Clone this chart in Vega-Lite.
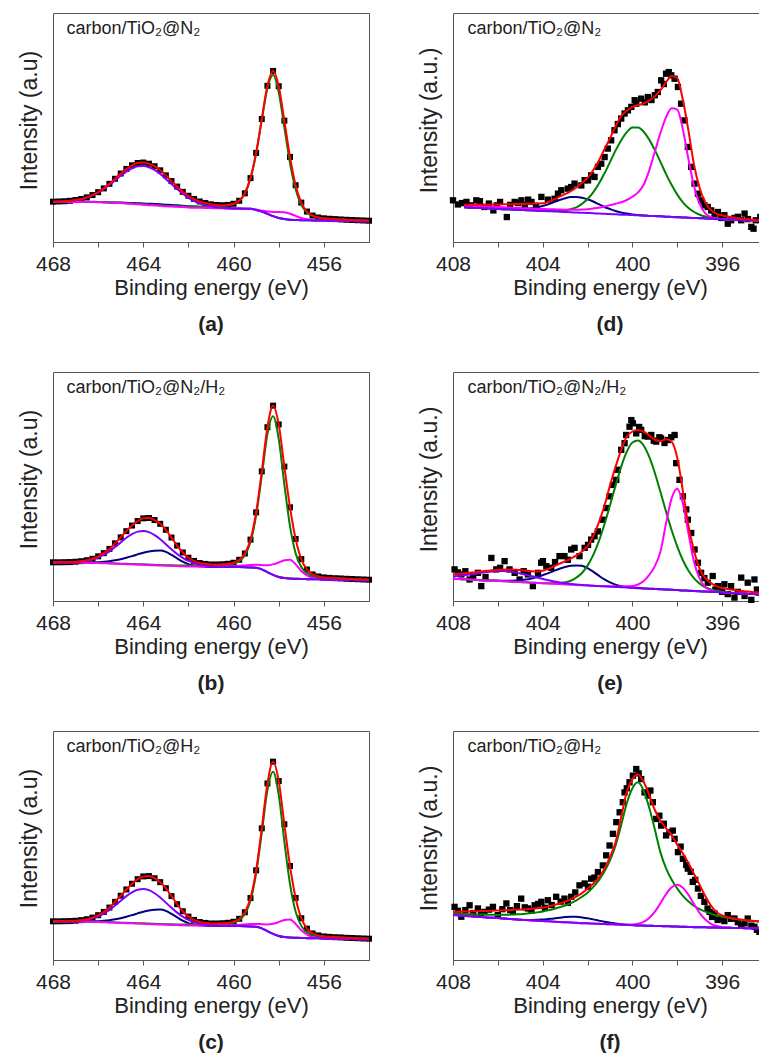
{
"$schema": "https://vega.github.io/schema/vega-lite/v6.json",
"background": "white",
"padding": {"left": 17, "top": 12, "right": 2, "bottom": 2},
"columns": 2,
"spacing": {"row": 130, "column": 84},
"bounds": "flush",
"config": {
 "font": "Liberation Sans",
 "view": {"stroke": "#555", "strokeWidth": 1},
 "axis": {"grid": false, "labelFont": "Liberation Sans", "titleFont": "Liberation Sans", "labelFontSize": 21, "titleFontSize": 22, "titleFontWeight": "normal", "labelColor": "#222", "titleColor": "#222", "domainColor": "#555", "tickColor": "#555"},
 "axisX": {"tickSize": 5, "labelPadding": 6, "titlePadding": 3, "labelFlush": false, "labelOverlap": false},
 "axisY": {"labels": false, "ticks": false, "domain": false, "titlePadding": 12, "titleY": 107, "titleFontSize": 23},
 "title": {"orient": "bottom", "fontSize": 21, "fontWeight": "bold", "font": "Liberation Sans", "color": "#222", "offset": 16, "anchor": "middle"},
 "line": {"strokeWidth": 2, "interpolate": "monotone"},
 "square": {"color": "black", "opacity": 1}
},
"datasets": {
"a": [
{"x":468,"r":17.6,"g":17.6,"m":17.5,"v":17.6,"n":17.5},
{"x":467.75,"r":17.7,"g":17.6,"m":17.5,"v":17.65,"n":17.5},
{"x":467.5,"r":17.8,"g":17.6,"m":17.5,"v":17.75,"n":17.5},
{"x":467.25,"r":18.0,"g":17.6,"m":17.5,"v":17.9,"n":17.5},
{"x":467,"r":18.35,"g":17.6,"m":17.5,"v":18.25,"n":17.5},
{"x":466.75,"r":18.8,"g":17.6,"m":17.5,"v":18.7,"n":17.55},
{"x":466.5,"r":19.5,"g":17.6,"m":17.5,"v":19.4,"n":17.55},
{"x":466.25,"r":20.5,"g":17.55,"m":17.45,"v":20.35,"n":17.5},
{"x":466,"r":21.75,"g":17.5,"m":17.4,"v":21.6,"n":17.45},
{"x":465.75,"r":23.4,"g":17.4,"m":17.3,"v":23.1,"n":17.4},
{"x":465.5,"r":25.4,"g":17.3,"m":17.2,"v":24.95,"n":17.3},
{"x":465.25,"r":27.6,"g":17.2,"m":17.1,"v":26.9,"n":17.25},
{"x":465,"r":29.9,"g":17.15,"m":17.0,"v":28.95,"n":17.2},
{"x":464.75,"r":31.9,"g":16.95,"m":16.8,"v":30.7,"n":17.1},
{"x":464.5,"r":33.5,"g":16.8,"m":16.65,"v":32.15,"n":17.0},
{"x":464.25,"r":34.5,"g":16.65,"m":16.5,"v":33.05,"n":16.95},
{"x":464,"r":34.7,"g":16.45,"m":16.3,"v":33.2,"n":16.8},
{"x":463.75,"r":34.2,"g":16.3,"m":16.1,"v":32.65,"n":16.7},
{"x":463.5,"r":33.1,"g":16.15,"m":15.95,"v":31.45,"n":16.6},
{"x":463.25,"r":31.3,"g":16.0,"m":15.8,"v":29.7,"n":16.5},
{"x":463,"r":29.1,"g":15.8,"m":15.6,"v":27.55,"n":16.3},
{"x":462.75,"r":26.6,"g":15.75,"m":15.5,"v":25.3,"n":16.2},
{"x":462.5,"r":24.2,"g":15.65,"m":15.35,"v":23.1,"n":16.0},
{"x":462.25,"r":21.9,"g":15.6,"m":15.25,"v":21.05,"n":15.85},
{"x":462,"r":20.2,"g":15.5,"m":15.1,"v":19.3,"n":15.6},
{"x":461.75,"r":18.8,"g":15.45,"m":15.0,"v":17.9,"n":15.45},
{"x":461.5,"r":17.7,"g":15.45,"m":14.95,"v":16.85,"n":15.3},
{"x":461.25,"r":17.0,"g":15.5,"m":14.9,"v":16.1,"n":15.2},
{"x":461,"r":16.45,"g":15.5,"m":14.8,"v":15.55,"n":15.0},
{"x":460.75,"r":16.15,"g":15.6,"m":14.75,"v":15.15,"n":14.9},
{"x":460.5,"r":16.05,"g":15.7,"m":14.7,"v":14.95,"n":14.8},
{"x":460.25,"r":16.2,"g":15.95,"m":14.65,"v":14.8,"n":14.75},
{"x":460,"r":16.7,"g":16.6,"m":14.6,"v":14.65,"n":14.65},
{"x":459.75,"r":18.0,"g":18.0,"m":14.6,"v":14.6,"n":14.6},
{"x":459.5,"r":21.25,"g":21.25,"m":14.55,"v":14.55,"n":14.55},
{"x":459.25,"r":27.9,"g":27.9,"m":14.5,"v":14.5,"n":14.5},
{"x":459,"r":38.9,"g":38.8,"m":14.15,"v":14.0,"n":14.0},
{"x":458.75,"r":53.7,"g":53.3,"m":13.7,"v":13.3,"n":13.3},
{"x":458.5,"r":68.2,"g":67.2,"m":13.3,"v":12.3,"n":12.3},
{"x":458.25,"r":74.7,"g":72.9,"m":13.1,"v":11.3,"n":11.3},
{"x":458,"r":68.05,"g":65.4,"m":13.15,"v":10.5,"n":10.5},
{"x":457.75,"r":53.0,"g":50.0,"m":13.0,"v":10.0,"n":10.0},
{"x":457.5,"r":37.15,"g":34.5,"m":12.35,"v":9.7,"n":9.7},
{"x":457.25,"r":24.8,"g":23.0,"m":11.4,"v":9.6,"n":9.6},
{"x":457,"r":17.2,"g":16.2,"m":10.5,"v":9.5,"n":9.5},
{"x":456.75,"r":13.3,"g":12.9,"m":9.9,"v":9.47,"n":9.47},
{"x":456.5,"r":11.55,"g":11.4,"m":9.55,"v":9.43,"n":9.43},
{"x":456.25,"r":10.7,"g":10.7,"m":9.45,"v":9.4,"n":9.4},
{"x":456,"r":10.35,"g":10.35,"m":9.35,"v":9.35,"n":9.35},
{"x":455.75,"r":10.15,"g":10.15,"m":9.3,"v":9.3,"n":9.3},
{"x":455.5,"r":10.0,"g":10.0,"m":9.28,"v":9.28,"n":9.28},
{"x":455.25,"r":9.85,"g":9.85,"m":9.25,"v":9.25,"n":9.25},
{"x":455,"r":9.7,"g":9.7,"m":9.2,"v":9.2,"n":9.2},
{"x":454.75,"r":9.6,"g":9.55,"m":9.15,"v":9.15,"n":9.15},
{"x":454.5,"r":9.5,"g":9.5,"m":9.1,"v":9.1,"n":9.1},
{"x":454.25,"r":9.4,"g":9.35,"m":9.05,"v":9.05,"n":9.05},
{"x":454,"r":9.3,"g":9.3,"m":9.0,"v":9.0,"n":9.0}
],
"b": [
{"x":468,"r":16.9,"g":16.9,"m":16.8,"v":16.8,"n":16.8},
{"x":467.75,"r":16.9,"g":16.9,"m":16.8,"v":16.8,"n":16.85},
{"x":467.5,"r":16.95,"g":16.9,"m":16.8,"v":16.85,"n":16.8},
{"x":467.25,"r":17.0,"g":16.9,"m":16.8,"v":16.9,"n":16.8},
{"x":467,"r":17.15,"g":16.9,"m":16.8,"v":17.05,"n":16.85},
{"x":466.75,"r":17.4,"g":16.85,"m":16.75,"v":17.2,"n":16.8},
{"x":466.5,"r":17.8,"g":16.8,"m":16.7,"v":17.55,"n":16.85},
{"x":466.25,"r":18.45,"g":16.75,"m":16.65,"v":18.15,"n":16.85},
{"x":466,"r":19.5,"g":16.7,"m":16.6,"v":19.0,"n":16.95},
{"x":465.75,"r":20.9,"g":16.6,"m":16.5,"v":20.2,"n":17.1},
{"x":465.5,"r":22.75,"g":16.5,"m":16.4,"v":21.7,"n":17.35},
{"x":465.25,"r":25.2,"g":16.4,"m":16.3,"v":23.6,"n":17.75},
{"x":465,"r":27.8,"g":16.3,"m":16.2,"v":25.6,"n":18.25},
{"x":464.75,"r":30.5,"g":16.25,"m":16.1,"v":27.6,"n":18.9},
{"x":464.5,"r":32.95,"g":16.15,"m":16.0,"v":29.2,"n":19.6},
{"x":464.25,"r":34.9,"g":16.05,"m":15.9,"v":30.3,"n":20.35},
{"x":464,"r":36.1,"g":16.0,"m":15.8,"v":30.6,"n":21.1},
{"x":463.75,"r":36.25,"g":15.9,"m":15.7,"v":30.1,"n":21.65},
{"x":463.5,"r":35.35,"g":15.8,"m":15.6,"v":28.8,"n":21.95},
{"x":463.25,"r":33.7,"g":15.7,"m":15.5,"v":27.0,"n":22.0},
{"x":463,"r":31.1,"g":15.65,"m":15.4,"v":24.8,"n":21.45},
{"x":462.75,"r":27.7,"g":15.6,"m":15.3,"v":22.6,"n":20.1},
{"x":462.5,"r":24.2,"g":15.55,"m":15.25,"v":20.55,"n":18.6},
{"x":462.25,"r":21.2,"g":15.5,"m":15.15,"v":18.85,"n":17.15},
{"x":462,"r":18.9,"g":15.5,"m":15.1,"v":17.5,"n":16.1},
{"x":461.75,"r":17.5,"g":15.5,"m":15.05,"v":16.55,"n":15.5},
{"x":461.5,"r":16.6,"g":15.5,"m":15.0,"v":15.85,"n":15.2},
{"x":461.25,"r":16.2,"g":15.55,"m":15.05,"v":15.4,"n":15.0},
{"x":461,"r":15.95,"g":15.55,"m":15.05,"v":15.15,"n":14.9},
{"x":460.75,"r":15.95,"g":15.65,"m":15.1,"v":15.0,"n":14.9},
{"x":460.5,"r":16.05,"g":15.75,"m":15.1,"v":14.9,"n":14.85},
{"x":460.25,"r":16.25,"g":15.9,"m":15.15,"v":14.85,"n":14.8},
{"x":460,"r":16.7,"g":16.3,"m":15.2,"v":14.8,"n":14.8},
{"x":459.75,"r":18.0,"g":17.4,"m":15.4,"v":14.8,"n":14.8},
{"x":459.5,"r":20.75,"g":19.95,"m":15.55,"v":14.75,"n":14.75},
{"x":459.25,"r":26.8,"g":25.75,"m":15.7,"v":14.65,"n":14.65},
{"x":459,"r":38.7,"g":37.4,"m":15.8,"v":14.5,"n":14.5},
{"x":458.75,"r":56.6,"g":54.7,"m":15.7,"v":13.8,"n":13.8},
{"x":458.5,"r":75.9,"g":72.9,"m":15.6,"v":12.6,"n":12.6},
{"x":458.25,"r":85.3,"g":80.7,"m":16.0,"v":11.4,"n":11.4},
{"x":458,"r":77.1,"g":70.8,"m":16.8,"v":10.5,"n":10.5},
{"x":457.75,"r":58.7,"g":50.9,"m":17.8,"v":10.0,"n":10.0},
{"x":457.5,"r":40.9,"g":32.7,"m":18.0,"v":9.8,"n":9.8},
{"x":457.25,"r":27.1,"g":20.8,"m":16.0,"v":9.7,"n":9.7},
{"x":457,"r":18.3,"g":14.8,"m":13.1,"v":9.6,"n":9.6},
{"x":456.75,"r":13.75,"g":12.15,"m":11.15,"v":9.55,"n":9.55},
{"x":456.5,"r":11.6,"g":11.0,"m":10.1,"v":9.5,"n":9.5},
{"x":456.25,"r":10.75,"g":10.55,"m":9.65,"v":9.45,"n":9.45},
{"x":456,"r":10.3,"g":10.3,"m":9.4,"v":9.4,"n":9.4},
{"x":455.75,"r":10.1,"g":10.1,"m":9.35,"v":9.35,"n":9.35},
{"x":455.5,"r":9.95,"g":9.95,"m":9.3,"v":9.3,"n":9.3},
{"x":455.25,"r":9.85,"g":9.85,"m":9.25,"v":9.25,"n":9.25},
{"x":455,"r":9.7,"g":9.7,"m":9.2,"v":9.2,"n":9.2},
{"x":454.75,"r":9.6,"g":9.55,"m":9.15,"v":9.15,"n":9.15},
{"x":454.5,"r":9.5,"g":9.5,"m":9.1,"v":9.1,"n":9.1},
{"x":454.25,"r":9.4,"g":9.4,"m":9.05,"v":9.05,"n":9.05},
{"x":454,"r":9.3,"g":9.3,"m":9.0,"v":9.0,"n":9.0}
],
"c": [
{"x":468,"r":16.9,"g":16.9,"m":16.8,"v":16.8,"n":16.8},
{"x":467.75,"r":16.9,"g":16.9,"m":16.8,"v":16.8,"n":16.85},
{"x":467.5,"r":16.95,"g":16.9,"m":16.8,"v":16.85,"n":16.8},
{"x":467.25,"r":17.0,"g":16.9,"m":16.8,"v":16.9,"n":16.8},
{"x":467,"r":17.15,"g":16.9,"m":16.8,"v":17.05,"n":16.85},
{"x":466.75,"r":17.4,"g":16.85,"m":16.75,"v":17.2,"n":16.8},
{"x":466.5,"r":17.8,"g":16.8,"m":16.7,"v":17.55,"n":16.85},
{"x":466.25,"r":18.5,"g":16.75,"m":16.65,"v":18.2,"n":16.85},
{"x":466,"r":19.55,"g":16.7,"m":16.6,"v":19.05,"n":16.95},
{"x":465.75,"r":21.0,"g":16.6,"m":16.5,"v":20.3,"n":17.1},
{"x":465.5,"r":22.9,"g":16.5,"m":16.4,"v":21.85,"n":17.35},
{"x":465.25,"r":25.4,"g":16.4,"m":16.3,"v":23.8,"n":17.75},
{"x":465,"r":28.05,"g":16.3,"m":16.2,"v":25.85,"n":18.25},
{"x":464.75,"r":30.8,"g":16.25,"m":16.1,"v":27.9,"n":18.9},
{"x":464.5,"r":33.3,"g":16.15,"m":16.0,"v":29.55,"n":19.6},
{"x":464.25,"r":35.3,"g":16.05,"m":15.9,"v":30.7,"n":20.35},
{"x":464,"r":36.5,"g":16.0,"m":15.8,"v":31.0,"n":21.1},
{"x":463.75,"r":36.65,"g":15.9,"m":15.7,"v":30.5,"n":21.65},
{"x":463.5,"r":35.7,"g":15.8,"m":15.6,"v":29.15,"n":21.95},
{"x":463.25,"r":34.0,"g":15.7,"m":15.5,"v":27.3,"n":22.0},
{"x":463,"r":31.35,"g":15.65,"m":15.4,"v":25.05,"n":21.45},
{"x":462.75,"r":27.9,"g":15.6,"m":15.3,"v":22.8,"n":20.1},
{"x":462.5,"r":24.35,"g":15.55,"m":15.25,"v":20.7,"n":18.6},
{"x":462.25,"r":21.3,"g":15.5,"m":15.15,"v":18.95,"n":17.15},
{"x":462,"r":18.95,"g":15.5,"m":15.1,"v":17.55,"n":16.1},
{"x":461.75,"r":17.5,"g":15.5,"m":15.05,"v":16.55,"n":15.5},
{"x":461.5,"r":16.6,"g":15.5,"m":15.0,"v":15.85,"n":15.2},
{"x":461.25,"r":16.2,"g":15.55,"m":15.05,"v":15.4,"n":15.0},
{"x":461,"r":15.95,"g":15.55,"m":15.05,"v":15.15,"n":14.9},
{"x":460.75,"r":15.95,"g":15.65,"m":15.1,"v":15.0,"n":14.9},
{"x":460.5,"r":16.05,"g":15.75,"m":15.1,"v":14.9,"n":14.85},
{"x":460.25,"r":16.25,"g":15.9,"m":15.15,"v":14.85,"n":14.8},
{"x":460,"r":16.7,"g":16.3,"m":15.2,"v":14.8,"n":14.8},
{"x":459.75,"r":18.0,"g":17.4,"m":15.4,"v":14.8,"n":14.8},
{"x":459.5,"r":20.85,"g":20.05,"m":15.55,"v":14.75,"n":14.75},
{"x":459.25,"r":27.05,"g":26.0,"m":15.7,"v":14.65,"n":14.65},
{"x":459,"r":39.15,"g":37.9,"m":15.75,"v":14.5,"n":14.5},
{"x":458.75,"r":57.5,"g":55.6,"m":15.65,"v":13.8,"n":13.8},
{"x":458.5,"r":77.1,"g":74.2,"m":15.5,"v":12.6,"n":12.6},
{"x":458.25,"r":86.6,"g":82.2,"m":15.8,"v":11.4,"n":11.4},
{"x":458,"r":78.15,"g":72.1,"m":16.55,"v":10.5,"n":10.5},
{"x":457.75,"r":59.3,"g":51.8,"m":17.5,"v":10.0,"n":10.0},
{"x":457.5,"r":41.05,"g":33.2,"m":17.7,"v":9.8,"n":9.8},
{"x":457.25,"r":27.1,"g":21.05,"m":15.75,"v":9.7,"n":9.7},
{"x":457,"r":18.25,"g":14.9,"m":12.95,"v":9.6,"n":9.6},
{"x":456.75,"r":13.7,"g":12.15,"m":11.1,"v":9.55,"n":9.55},
{"x":456.5,"r":11.6,"g":11.0,"m":10.1,"v":9.5,"n":9.5},
{"x":456.25,"r":10.75,"g":10.55,"m":9.65,"v":9.45,"n":9.45},
{"x":456,"r":10.3,"g":10.3,"m":9.4,"v":9.4,"n":9.4},
{"x":455.75,"r":10.1,"g":10.1,"m":9.35,"v":9.35,"n":9.35},
{"x":455.5,"r":9.95,"g":9.95,"m":9.3,"v":9.3,"n":9.3},
{"x":455.25,"r":9.85,"g":9.85,"m":9.25,"v":9.25,"n":9.25},
{"x":455,"r":9.7,"g":9.7,"m":9.2,"v":9.2,"n":9.2},
{"x":454.75,"r":9.6,"g":9.55,"m":9.15,"v":9.15,"n":9.15},
{"x":454.5,"r":9.5,"g":9.5,"m":9.1,"v":9.1,"n":9.1},
{"x":454.25,"r":9.4,"g":9.4,"m":9.05,"v":9.05,"n":9.05},
{"x":454,"r":9.3,"g":9.3,"m":9.0,"v":9.0,"n":9.0}
],
"d": [
{"x":407.5,"r":16.3,"g":15.15,"m":15.95,"v":15.15,"n":15.15},
{"x":407.25,"r":16.3,"g":15.0,"m":15.8,"v":15.0,"n":15.0},
{"x":407,"r":16.3,"g":14.9,"m":15.7,"v":14.9,"n":14.9},
{"x":406.75,"r":16.3,"g":14.8,"m":15.6,"v":14.8,"n":14.8},
{"x":406.5,"r":16.3,"g":14.7,"m":15.5,"v":14.7,"n":14.7},
{"x":406.25,"r":16.35,"g":14.55,"m":15.35,"v":14.55,"n":14.55},
{"x":406,"r":16.4,"g":14.45,"m":15.25,"v":14.45,"n":14.45},
{"x":405.75,"r":16.45,"g":14.35,"m":15.15,"v":14.35,"n":14.35},
{"x":405.5,"r":16.5,"g":14.25,"m":15.05,"v":14.25,"n":14.3},
{"x":405.25,"r":16.55,"g":14.1,"m":14.9,"v":14.1,"n":14.25},
{"x":405,"r":16.6,"g":14.0,"m":14.8,"v":14.0,"n":14.3},
{"x":404.75,"r":16.65,"g":13.9,"m":14.7,"v":13.9,"n":14.45},
{"x":404.5,"r":16.7,"g":13.8,"m":14.6,"v":13.8,"n":14.7},
{"x":404.25,"r":16.8,"g":13.65,"m":14.5,"v":13.65,"n":15.1},
{"x":404,"r":16.9,"g":13.6,"m":14.4,"v":13.55,"n":15.75},
{"x":403.75,"r":17.5,"g":13.55,"m":14.3,"v":13.45,"n":16.45},
{"x":403.5,"r":18.5,"g":13.55,"m":14.25,"v":13.35,"n":17.45},
{"x":403.25,"r":19.8,"g":13.6,"m":14.15,"v":13.2,"n":18.35},
{"x":403,"r":20.9,"g":13.85,"m":14.1,"v":13.1,"n":19.1},
{"x":402.75,"r":22.2,"g":14.35,"m":14.1,"v":13.0,"n":19.6},
{"x":402.5,"r":23.8,"g":15.15,"m":14.05,"v":12.85,"n":19.65},
{"x":402.25,"r":25.8,"g":16.65,"m":14.15,"v":12.75,"n":19.35},
{"x":402,"r":28.0,"g":18.75,"m":14.35,"v":12.65,"n":18.65},
{"x":401.75,"r":31.3,"g":21.65,"m":14.65,"v":12.55,"n":17.7},
{"x":401.5,"r":35.5,"g":25.45,"m":15.0,"v":12.4,"n":16.5},
{"x":401.25,"r":40.5,"g":29.9,"m":15.5,"v":12.3,"n":15.3},
{"x":401,"r":45.3,"g":34.9,"m":16.1,"v":12.2,"n":14.4},
{"x":400.75,"r":50.5,"g":40.0,"m":16.7,"v":12.1,"n":13.55},
{"x":400.5,"r":55.0,"g":44.45,"m":17.35,"v":11.95,"n":12.85},
{"x":400.25,"r":57.3,"g":47.95,"m":18.35,"v":11.85,"n":12.4},
{"x":400,"r":59.0,"g":49.95,"m":19.75,"v":11.75,"n":12.05},
{"x":399.75,"r":59.8,"g":50.0,"m":21.65,"v":11.65,"n":11.8},
{"x":399.5,"r":60.5,"g":48.15,"m":25.0,"v":11.5,"n":11.6},
{"x":399.25,"r":61.8,"g":44.7,"m":31.3,"v":11.4,"n":11.4},
{"x":399,"r":63.7,"g":40.1,"m":39.4,"v":11.3,"n":11.3},
{"x":398.75,"r":66.3,"g":35.0,"m":47.7,"v":11.2,"n":11.2},
{"x":398.5,"r":69.8,"g":29.65,"m":54.55,"v":11.05,"n":11.05},
{"x":398.25,"r":72.5,"g":24.85,"m":58.45,"v":10.95,"n":10.95},
{"x":398,"r":71.5,"g":20.7,"m":57.85,"v":10.85,"n":10.85},
{"x":397.75,"r":62.0,"g":17.35,"m":49.15,"v":10.75,"n":10.75},
{"x":397.5,"r":48.5,"g":14.85,"m":36.1,"v":10.6,"n":10.6},
{"x":397.25,"r":33.5,"g":13.1,"m":24.3,"v":10.5,"n":10.5},
{"x":397,"r":23.5,"g":11.9,"m":16.5,"v":10.4,"n":10.4},
{"x":396.75,"r":17.3,"g":11.1,"m":12.5,"v":10.3,"n":10.3},
{"x":396.5,"r":13.9,"g":10.6,"m":10.9,"v":10.2,"n":10.2},
{"x":396.25,"r":12.3,"g":10.25,"m":10.25,"v":10.05,"n":10.05},
{"x":396,"r":11.6,"g":10.05,"m":10.0,"v":9.95,"n":9.95},
{"x":395.75,"r":11.1,"g":9.85,"m":9.85,"v":9.85,"n":9.85},
{"x":395.5,"r":10.7,"g":9.75,"m":9.75,"v":9.75,"n":9.75},
{"x":395.25,"r":10.4,"g":9.6,"m":9.6,"v":9.6,"n":9.6},
{"x":395,"r":10.1,"g":9.5,"m":9.5,"v":9.5,"n":9.5},
{"x":394.75,"r":9.8,"g":9.4,"m":9.4,"v":9.4,"n":9.4},
{"x":394.5,"r":9.6,"g":9.3,"m":9.3,"v":9.3,"n":9.3},
{"x":394.25,"r":9.4,"g":9.2,"m":9.2,"v":9.2,"n":9.2},
{"x":394,"r":9.3,"g":9.05,"m":9.05,"v":9.05,"n":9.05}
],
"ds": [
{"x":408.0,"y":18.2},{"x":407.78,"y":16.4},{"x":407.6,"y":17.0},{"x":407.4,"y":17.5},{"x":407.2,"y":16.0},{"x":406.96,"y":18.2},{"x":406.8,"y":17.8},{"x":406.6,"y":15.3},{"x":406.4,"y":16.8},{"x":406.2,"y":13.8},{"x":406.05,"y":16.0},{"x":405.9,"y":17.5},{"x":405.6,"y":10.9},{"x":405.45,"y":16.2},{"x":405.25,"y":17.5},{"x":405.1,"y":17.0},{"x":404.95,"y":18.2},{"x":404.8,"y":16.0},{"x":404.65,"y":18.5},{"x":404.5,"y":17.5},{"x":404.3,"y":15.8},{"x":404.06,"y":19.7},{"x":403.77,"y":18.5},{"x":403.47,"y":18.9},{"x":403.32,"y":21.1},{"x":403.17,"y":22.6},{"x":402.88,"y":23.3},{"x":402.73,"y":24.0},{"x":402.58,"y":25.5},{"x":402.28,"y":24.7},{"x":402.13,"y":27.0},{"x":401.98,"y":26.9},{"x":401.84,"y":29.1},{"x":401.69,"y":28.4},{"x":401.54,"y":32.8},{"x":401.39,"y":34.2},{"x":401.24,"y":37.1},{"x":401.1,"y":40.8},{"x":400.95,"y":44.4},{"x":400.8,"y":48.8},{"x":400.65,"y":51.5},{"x":400.5,"y":53.9},{"x":400.35,"y":56.1},{"x":400.2,"y":57.5},{"x":400.05,"y":59.0},{"x":399.9,"y":61.9},{"x":399.83,"y":60.4},{"x":399.61,"y":62.6},{"x":399.45,"y":61.0},{"x":399.31,"y":63.3},{"x":399.15,"y":62.0},{"x":399.0,"y":64.1},{"x":398.87,"y":65.5},{"x":398.72,"y":70.6},{"x":398.6,"y":69.0},{"x":398.5,"y":73.5},{"x":398.38,"y":74.2},{"x":398.27,"y":72.8},{"x":398.12,"y":71.3},{"x":397.97,"y":67.7},{"x":397.83,"y":60.4},{"x":397.68,"y":53.1},{"x":397.53,"y":41.5},{"x":397.38,"y":32.8},{"x":397.23,"y":25.5},{"x":397.08,"y":21.1},{"x":396.94,"y":18.2},{"x":396.79,"y":16.0},{"x":396.64,"y":15.3},{"x":396.49,"y":13.8},{"x":396.34,"y":12.0},{"x":396.19,"y":13.1},{"x":396.04,"y":10.5},{"x":395.9,"y":11.7},{"x":395.75,"y":8.0},{"x":395.6,"y":9.5},{"x":395.45,"y":10.5},{"x":395.3,"y":11.0},{"x":395.15,"y":9.5},{"x":395.0,"y":12.4},{"x":394.85,"y":10.0},{"x":394.7,"y":6.6},{"x":394.6,"y":5.8},{"x":394.5,"y":9.5},{"x":394.3,"y":11.0}
],
"e": [
{"x":408,"r":11.6,"g":9.75,"m":9.75,"v":10.65,"n":9.75},
{"x":407.75,"r":11.85,"g":9.6,"m":9.6,"v":10.9,"n":9.6},
{"x":407.5,"r":12.1,"g":9.5,"m":9.5,"v":11.2,"n":9.5},
{"x":407.25,"r":12.35,"g":9.4,"m":9.4,"v":11.55,"n":9.4},
{"x":407,"r":12.6,"g":9.25,"m":9.25,"v":11.9,"n":9.25},
{"x":406.75,"r":12.9,"g":9.1,"m":9.1,"v":12.3,"n":9.1},
{"x":406.5,"r":13.2,"g":9.0,"m":9.0,"v":12.65,"n":9.0},
{"x":406.25,"r":13.4,"g":8.9,"m":8.9,"v":12.9,"n":8.95},
{"x":406,"r":13.6,"g":8.75,"m":8.75,"v":13.05,"n":8.95},
{"x":405.75,"r":13.7,"g":8.65,"m":8.65,"v":13.05,"n":8.85},
{"x":405.5,"r":13.8,"g":8.5,"m":8.5,"v":12.85,"n":8.8},
{"x":405.25,"r":13.65,"g":8.4,"m":8.4,"v":12.5,"n":8.9},
{"x":405,"r":13.5,"g":8.25,"m":8.25,"v":12.05,"n":9.05},
{"x":404.75,"r":13.25,"g":8.15,"m":8.15,"v":11.5,"n":9.35},
{"x":404.5,"r":13.0,"g":8.0,"m":8.0,"v":10.9,"n":9.85},
{"x":404.25,"r":12.9,"g":7.9,"m":7.9,"v":10.25,"n":10.5},
{"x":404,"r":13.2,"g":7.8,"m":7.75,"v":9.6,"n":11.3},
{"x":403.75,"r":14.0,"g":7.7,"m":7.65,"v":9.05,"n":12.15},
{"x":403.5,"r":15.1,"g":7.7,"m":7.5,"v":8.55,"n":13.15},
{"x":403.25,"r":16.3,"g":7.85,"m":7.4,"v":8.1,"n":14.1},
{"x":403,"r":17.3,"g":8.2,"m":7.25,"v":7.75,"n":14.85},
{"x":402.75,"r":18.5,"g":8.85,"m":7.15,"v":7.45,"n":15.35},
{"x":402.5,"r":19.9,"g":10.2,"m":7.0,"v":7.2,"n":15.55},
{"x":402.25,"r":21.6,"g":12.25,"m":6.9,"v":7.0,"n":15.35},
{"x":402,"r":23.9,"g":15.45,"m":6.75,"v":6.85,"n":14.35},
{"x":401.75,"r":28.3,"g":20.0,"m":6.65,"v":6.65,"n":12.8},
{"x":401.5,"r":34.2,"g":26.0,"m":6.5,"v":6.5,"n":11.05},
{"x":401.25,"r":41.5,"g":33.4,"m":6.4,"v":6.4,"n":9.4},
{"x":401,"r":50.4,"g":41.8,"m":6.45,"v":6.25,"n":8.1},
{"x":400.75,"r":58.7,"g":50.5,"m":6.35,"v":6.15,"n":7.1},
{"x":400.5,"r":66.0,"g":58.7,"m":6.35,"v":6.0,"n":6.5},
{"x":400.25,"r":71.8,"g":65.2,"m":6.4,"v":5.9,"n":6.1},
{"x":400,"r":74.0,"g":69.2,"m":6.55,"v":5.75,"n":5.85},
{"x":399.75,"r":74.7,"g":70.1,"m":7.2,"v":5.6,"n":5.65},
{"x":399.5,"r":74.0,"g":67.9,"m":8.7,"v":5.5,"n":5.5},
{"x":399.25,"r":72.3,"g":62.9,"m":11.4,"v":5.4,"n":5.4},
{"x":399,"r":70.4,"g":55.9,"m":15.25,"v":5.25,"n":5.25},
{"x":398.75,"r":69.9,"g":47.6,"m":21.6,"v":5.1,"n":5.1},
{"x":398.5,"r":70.6,"g":39.0,"m":34.0,"v":5.0,"n":5.0},
{"x":398.25,"r":69.5,"g":30.9,"m":44.9,"v":4.9,"n":4.9},
{"x":398,"r":62.5,"g":23.75,"m":49.05,"v":4.75,"n":4.75},
{"x":397.75,"r":48.0,"g":17.8,"m":42.6,"v":4.6,"n":4.6},
{"x":397.5,"r":32.8,"g":13.2,"m":29.5,"v":4.5,"n":4.5},
{"x":397.25,"r":21.8,"g":9.9,"m":16.9,"v":4.4,"n":4.4},
{"x":397,"r":14.0,"g":7.6,"m":9.75,"v":4.25,"n":4.25},
{"x":396.75,"r":10.0,"g":6.0,"m":6.1,"v":4.1,"n":4.1},
{"x":396.5,"r":7.8,"g":5.05,"m":4.6,"v":4.0,"n":4.0},
{"x":396.25,"r":6.5,"g":4.45,"m":4.05,"v":3.9,"n":3.9},
{"x":396,"r":5.7,"g":4.0,"m":3.75,"v":3.75,"n":3.75},
{"x":395.75,"r":5.2,"g":3.7,"m":3.6,"v":3.6,"n":3.6},
{"x":395.5,"r":4.9,"g":3.55,"m":3.5,"v":3.5,"n":3.5},
{"x":395.25,"r":4.5,"g":3.42,"m":3.4,"v":3.4,"n":3.4},
{"x":395,"r":4.3,"g":3.28,"m":3.25,"v":3.25,"n":3.25},
{"x":394.75,"r":4.0,"g":3.13,"m":3.1,"v":3.1,"n":3.1},
{"x":394.5,"r":3.8,"g":3.0,"m":3.0,"v":3.0,"n":3.0},
{"x":394.25,"r":3.6,"g":2.9,"m":2.9,"v":2.9,"n":2.9},
{"x":394,"r":3.5,"g":2.78,"m":2.75,"v":2.75,"n":2.75}
],
"es": [
{"x":407.93,"y":13.8},{"x":407.78,"y":12.5},{"x":407.63,"y":11.6},{"x":407.45,"y":13.0},{"x":407.26,"y":9.4},{"x":407.1,"y":11.0},{"x":406.89,"y":12.3},{"x":406.74,"y":6.5},{"x":406.55,"y":10.5},{"x":406.29,"y":18.8},{"x":406.07,"y":13.8},{"x":405.9,"y":14.5},{"x":405.7,"y":17.4},{"x":405.48,"y":13.8},{"x":405.25,"y":12.3},{"x":405.03,"y":9.4},{"x":404.85,"y":13.0},{"x":404.66,"y":11.6},{"x":404.44,"y":6.5},{"x":404.21,"y":12.3},{"x":404.07,"y":16.7},{"x":403.99,"y":17.4},{"x":403.84,"y":15.2},{"x":403.62,"y":14.5},{"x":403.45,"y":17.0},{"x":403.25,"y":19.6},{"x":403.03,"y":19.6},{"x":402.88,"y":18.0},{"x":402.73,"y":22.5},{"x":402.58,"y":23.2},{"x":402.36,"y":19.6},{"x":402.13,"y":23.2},{"x":401.98,"y":24.5},{"x":401.84,"y":26.8},{"x":401.69,"y":28.3},{"x":401.54,"y":30.4},{"x":401.32,"y":35.5},{"x":401.17,"y":40.6},{"x":401.02,"y":45.7},{"x":400.87,"y":50.7},{"x":400.72,"y":52.9},{"x":400.65,"y":57.3},{"x":400.5,"y":66.0},{"x":400.35,"y":68.9},{"x":400.28,"y":72.5},{"x":400.13,"y":76.1},{"x":400.05,"y":79.0},{"x":399.98,"y":77.6},{"x":399.83,"y":73.2},{"x":399.7,"y":76.0},{"x":399.61,"y":74.7},{"x":399.45,"y":72.0},{"x":399.31,"y":71.8},{"x":399.16,"y":72.5},{"x":399.05,"y":70.0},{"x":398.94,"y":69.6},{"x":398.8,"y":71.5},{"x":398.72,"y":71.0},{"x":398.57,"y":69.0},{"x":398.42,"y":70.3},{"x":398.27,"y":71.5},{"x":398.12,"y":72.5},{"x":398.05,"y":60.2},{"x":397.9,"y":52.9},{"x":397.75,"y":45.7},{"x":397.6,"y":40.0},{"x":397.53,"y":35.5},{"x":397.38,"y":29.7},{"x":397.23,"y":22.5},{"x":397.08,"y":16.7},{"x":396.94,"y":12.3},{"x":396.79,"y":10.0},{"x":396.64,"y":8.0},{"x":396.42,"y":10.9},{"x":396.3,"y":5.0},{"x":396.19,"y":6.5},{"x":396.0,"y":4.0},{"x":395.9,"y":7.3},{"x":395.75,"y":3.0},{"x":395.6,"y":6.5},{"x":395.45,"y":1.5},{"x":395.3,"y":4.0},{"x":395.15,"y":10.2},{"x":395.0,"y":2.2},{"x":394.86,"y":8.0},{"x":394.7,"y":0.5},{"x":394.56,"y":9.4},{"x":394.45,"y":5.0},{"x":394.34,"y":3.6}
],
"f": [
{"x":408,"r":21.0,"g":20.3,"m":19.6,"v":19.6,"n":19.9},
{"x":407.75,"r":21.1,"g":20.2,"m":19.4,"v":19.4,"n":19.6},
{"x":407.5,"r":21.15,"g":20.1,"m":19.25,"v":19.25,"n":19.4},
{"x":407.25,"r":21.2,"g":20.0,"m":19.1,"v":19.1,"n":19.2},
{"x":407,"r":21.3,"g":19.9,"m":18.9,"v":18.9,"n":19.0},
{"x":406.75,"r":21.35,"g":19.85,"m":18.75,"v":18.75,"n":18.8},
{"x":406.5,"r":21.45,"g":19.8,"m":18.6,"v":18.6,"n":18.6},
{"x":406.25,"r":21.5,"g":19.75,"m":18.45,"v":18.45,"n":18.45},
{"x":406,"r":21.6,"g":19.7,"m":18.3,"v":18.3,"n":18.3},
{"x":405.75,"r":21.7,"g":19.75,"m":18.1,"v":18.1,"n":18.1},
{"x":405.5,"r":21.8,"g":19.8,"m":17.95,"v":17.95,"n":17.95},
{"x":405.25,"r":21.9,"g":19.9,"m":17.8,"v":17.8,"n":17.8},
{"x":405,"r":22.0,"g":20.0,"m":17.6,"v":17.6,"n":17.6},
{"x":404.75,"r":22.2,"g":20.2,"m":17.45,"v":17.45,"n":17.5},
{"x":404.5,"r":22.4,"g":20.5,"m":17.3,"v":17.3,"n":17.5},
{"x":404.25,"r":22.6,"g":20.8,"m":17.15,"v":17.15,"n":17.55},
{"x":404,"r":22.8,"g":21.2,"m":17.0,"v":17.0,"n":17.65},
{"x":403.75,"r":23.3,"g":21.7,"m":16.9,"v":16.9,"n":17.9},
{"x":403.5,"r":23.9,"g":22.3,"m":16.75,"v":16.75,"n":18.15},
{"x":403.25,"r":24.7,"g":23.0,"m":16.6,"v":16.6,"n":18.45},
{"x":403,"r":25.5,"g":23.8,"m":16.5,"v":16.5,"n":18.75},
{"x":402.75,"r":26.5,"g":24.8,"m":16.4,"v":16.4,"n":18.9},
{"x":402.5,"r":27.7,"g":26.0,"m":16.25,"v":16.25,"n":18.85},
{"x":402.25,"r":29.2,"g":27.6,"m":16.1,"v":16.1,"n":18.6},
{"x":402,"r":31.1,"g":29.4,"m":16.0,"v":16.0,"n":18.25},
{"x":401.75,"r":33.3,"g":31.8,"m":15.9,"v":15.9,"n":17.75},
{"x":401.5,"r":36.0,"g":34.8,"m":15.8,"v":15.8,"n":17.2},
{"x":401.25,"r":39.8,"g":38.6,"m":15.7,"v":15.7,"n":16.7},
{"x":401,"r":45.0,"g":43.5,"m":15.6,"v":15.6,"n":16.25},
{"x":400.75,"r":51.5,"g":50.0,"m":15.5,"v":15.5,"n":15.9},
{"x":400.5,"r":62.5,"g":59.0,"m":15.4,"v":15.4,"n":15.6},
{"x":400.25,"r":73.5,"g":68.5,"m":15.4,"v":15.3,"n":15.4},
{"x":400,"r":79.0,"g":75.0,"m":15.45,"v":15.2,"n":15.25},
{"x":399.75,"r":81.0,"g":77.6,"m":15.8,"v":15.1,"n":15.1},
{"x":399.5,"r":77.8,"g":74.0,"m":16.65,"v":15.05,"n":15.05},
{"x":399.25,"r":72.0,"g":66.5,"m":18.35,"v":14.95,"n":14.95},
{"x":399,"r":65.5,"g":57.0,"m":21.1,"v":14.9,"n":14.9},
{"x":398.75,"r":60.8,"g":47.0,"m":24.8,"v":14.8,"n":14.8},
{"x":398.5,"r":57.5,"g":40.0,"m":28.75,"v":14.75,"n":14.75},
{"x":398.25,"r":54.5,"g":35.0,"m":31.75,"v":14.65,"n":14.65},
{"x":398,"r":50.3,"g":31.2,"m":32.9,"v":14.6,"n":14.6},
{"x":397.75,"r":46.5,"g":28.0,"m":31.6,"v":14.5,"n":14.5},
{"x":397.5,"r":42.3,"g":25.5,"m":28.45,"v":14.45,"n":14.45},
{"x":397.25,"r":37.5,"g":23.6,"m":24.35,"v":14.35,"n":14.35},
{"x":397,"r":32.8,"g":22.2,"m":20.5,"v":14.3,"n":14.3},
{"x":396.75,"r":27.8,"g":21.1,"m":17.65,"v":14.25,"n":14.25},
{"x":396.5,"r":23.8,"g":20.2,"m":15.8,"v":14.2,"n":14.2},
{"x":396.25,"r":21.0,"g":19.5,"m":14.85,"v":14.15,"n":14.15},
{"x":396,"r":19.5,"g":18.9,"m":14.35,"v":14.1,"n":14.1},
{"x":395.75,"r":18.7,"g":18.4,"m":14.15,"v":14.05,"n":14.05},
{"x":395.5,"r":18.2,"g":18.0,"m":14.0,"v":14.0,"n":14.0},
{"x":395.25,"r":17.8,"g":17.6,"m":13.95,"v":13.95,"n":13.95},
{"x":395,"r":17.5,"g":17.3,"m":13.9,"v":13.9,"n":13.9},
{"x":394.75,"r":17.2,"g":17.1,"m":13.85,"v":13.85,"n":13.85},
{"x":394.5,"r":17.0,"g":16.9,"m":13.85,"v":13.85,"n":13.85},
{"x":394.25,"r":16.8,"g":16.7,"m":13.8,"v":13.8,"n":13.8},
{"x":394,"r":16.7,"g":16.6,"m":13.8,"v":13.8,"n":13.8}
],
"fs": [
{"x":407.93,"y":23.2},{"x":407.78,"y":21.5},{"x":407.63,"y":18.9},{"x":407.45,"y":21.8},{"x":407.26,"y":23.9},{"x":407.1,"y":20.5},{"x":406.89,"y":22.5},{"x":406.75,"y":20.2},{"x":406.6,"y":21.0},{"x":406.4,"y":22.0},{"x":406.22,"y":23.2},{"x":406.0,"y":19.6},{"x":405.8,"y":22.2},{"x":405.62,"y":24.7},{"x":405.45,"y":21.8},{"x":405.33,"y":21.0},{"x":405.15,"y":23.5},{"x":404.96,"y":26.8},{"x":404.8,"y":23.0},{"x":404.66,"y":22.5},{"x":404.5,"y":21.5},{"x":404.36,"y":23.9},{"x":404.2,"y":24.5},{"x":404.06,"y":25.4},{"x":403.9,"y":22.8},{"x":403.77,"y":26.1},{"x":403.6,"y":24.0},{"x":403.4,"y":27.6},{"x":403.2,"y":25.5},{"x":403.03,"y":26.8},{"x":402.88,"y":25.0},{"x":402.73,"y":27.6},{"x":402.55,"y":29.5},{"x":402.36,"y":32.6},{"x":402.13,"y":33.4},{"x":401.98,"y":32.0},{"x":401.84,"y":35.5},{"x":401.69,"y":36.0},{"x":401.54,"y":38.4},{"x":401.32,"y":41.3},{"x":401.17,"y":45.7},{"x":401.02,"y":50.0},{"x":400.87,"y":55.1},{"x":400.72,"y":60.2},{"x":400.57,"y":64.5},{"x":400.43,"y":68.9},{"x":400.35,"y":73.2},{"x":400.25,"y":75.0},{"x":400.13,"y":77.6},{"x":399.98,"y":80.5},{"x":399.83,"y":83.4},{"x":399.72,"y":81.5},{"x":399.61,"y":79.0},{"x":399.46,"y":73.2},{"x":399.31,"y":71.8},{"x":399.2,"y":74.0},{"x":399.09,"y":68.9},{"x":398.94,"y":61.6},{"x":398.8,"y":63.0},{"x":398.72,"y":58.7},{"x":398.6,"y":59.5},{"x":398.5,"y":54.4},{"x":398.35,"y":55.8},{"x":398.2,"y":56.5},{"x":398.12,"y":52.9},{"x":397.97,"y":47.1},{"x":397.85,"y":49.5},{"x":397.75,"y":44.2},{"x":397.6,"y":41.5},{"x":397.53,"y":39.9},{"x":397.4,"y":38.5},{"x":397.31,"y":34.1},{"x":397.2,"y":35.0},{"x":397.08,"y":31.2},{"x":396.95,"y":28.0},{"x":396.79,"y":25.4},{"x":396.65,"y":22.5},{"x":396.56,"y":21.0},{"x":396.45,"y":18.8},{"x":396.34,"y":20.3},{"x":396.2,"y":17.5},{"x":396.04,"y":18.1},{"x":395.9,"y":17.0},{"x":395.75,"y":19.6},{"x":395.6,"y":18.0},{"x":395.45,"y":18.1},{"x":395.3,"y":16.5},{"x":395.15,"y":15.2},{"x":395.0,"y":16.0},{"x":394.86,"y":18.1},{"x":394.7,"y":15.0},{"x":394.56,"y":14.5},{"x":394.45,"y":13.2},{"x":394.34,"y":12.3}
]
},
"concat": [
{"width":316,"height":229,"title":"(a)","data":{"name":"a"},
 "encoding":{"x":{"field":"x","type":"quantitative","scale":{"domain":[454,468],"reverse":true,"nice":false,"zero":false},"axis":{"title":"Binding energy (eV)","values":[468,466,464,462,460,458,456],"labelExpr":"datum.value % 4 === 0 ? datum.label : ''"}}},
 "layer":[
  {"mark":{"type":"square","size":36},"encoding":{"y":{"field":"r","type":"quantitative","scale":{"domain":[0,100],"nice":false,"zero":false},"axis":{"title":"Intensity (a.u)"}}}},
  {"mark":{"type":"line","color":"#000080"},"encoding":{"y":{"field":"n","type":"quantitative"}}},
  {"mark":{"type":"line","color":"#008000"},"encoding":{"y":{"field":"g","type":"quantitative"}}},
  {"mark":{"type":"line","color":"#ff00ff"},"encoding":{"y":{"field":"m","type":"quantitative"}}},
  {"mark":{"type":"line","color":"#8000ff"},"encoding":{"y":{"field":"v","type":"quantitative"}}},
  {"mark":{"type":"line","color":"#ff0000"},"encoding":{"y":{"field":"r","type":"quantitative"}}},
  {"transform":[{"filter":"datum.x === 468"}],"mark":{"type":"text","align":"left","baseline":"alphabetic","fontSize":18,"font":"Liberation Sans","color":"#222"},"encoding":{"x":{"datum":467.4,"type":"quantitative"},"y":{"datum":91,"type":"quantitative"},"text":{"value":"carbon/TiO₂@N₂"}}}
 ]},
{"width":314,"height":229,"title":"(d)","data":{"name":"d"},
 "encoding":{"x":{"field":"x","type":"quantitative","scale":{"domain":[394,408],"reverse":true,"nice":false,"zero":false},"axis":{"title":"Binding energy (eV)","values":[408,406,404,402,400,398,396],"labelExpr":"datum.value % 4 === 0 ? datum.label : ''"}}},
 "layer":[
  {"data":{"name":"ds"},"mark":{"type":"square","size":40},"encoding":{"y":{"field":"y","type":"quantitative","scale":{"domain":[0,100],"nice":false,"zero":false},"axis":{"title":"Intensity (a.u.)"}}}},
  {"mark":{"type":"line","color":"#000080"},"encoding":{"y":{"field":"n","type":"quantitative"}}},
  {"mark":{"type":"line","color":"#008000"},"encoding":{"y":{"field":"g","type":"quantitative"}}},
  {"mark":{"type":"line","color":"#ff00ff"},"encoding":{"y":{"field":"m","type":"quantitative"}}},
  {"mark":{"type":"line","color":"#8000ff"},"encoding":{"y":{"field":"v","type":"quantitative"}}},
  {"mark":{"type":"line","color":"#ff0000"},"encoding":{"y":{"field":"r","type":"quantitative"}}},
  {"transform":[{"filter":"datum.x === 394"}],"mark":{"type":"text","align":"left","baseline":"alphabetic","fontSize":18,"font":"Liberation Sans","color":"#222"},"encoding":{"x":{"datum":407.35,"type":"quantitative"},"y":{"datum":91,"type":"quantitative"},"text":{"value":"carbon/TiO₂@N₂"}}}
 ]},
{"width":316,"height":229,"title":"(b)","data":{"name":"b"},
 "encoding":{"x":{"field":"x","type":"quantitative","scale":{"domain":[454,468],"reverse":true,"nice":false,"zero":false},"axis":{"title":"Binding energy (eV)","values":[468,466,464,462,460,458,456],"labelExpr":"datum.value % 4 === 0 ? datum.label : ''"}}},
 "layer":[
  {"mark":{"type":"square","size":36},"encoding":{"y":{"field":"r","type":"quantitative","scale":{"domain":[0,100],"nice":false,"zero":false},"axis":{"title":"Intensity (a.u)"}}}},
  {"mark":{"type":"line","color":"#000080"},"encoding":{"y":{"field":"n","type":"quantitative"}}},
  {"mark":{"type":"line","color":"#008000"},"encoding":{"y":{"field":"g","type":"quantitative"}}},
  {"mark":{"type":"line","color":"#ff00ff"},"encoding":{"y":{"field":"m","type":"quantitative"}}},
  {"mark":{"type":"line","color":"#8000ff"},"encoding":{"y":{"field":"v","type":"quantitative"}}},
  {"mark":{"type":"line","color":"#ff0000"},"encoding":{"y":{"field":"r","type":"quantitative"}}},
  {"transform":[{"filter":"datum.x === 468"}],"mark":{"type":"text","align":"left","baseline":"alphabetic","fontSize":18,"font":"Liberation Sans","color":"#222"},"encoding":{"x":{"datum":467.4,"type":"quantitative"},"y":{"datum":91,"type":"quantitative"},"text":{"value":"carbon/TiO₂@N₂/H₂"}}}
 ]},
{"width":314,"height":229,"title":"(e)","data":{"name":"e"},
 "encoding":{"x":{"field":"x","type":"quantitative","scale":{"domain":[394,408],"reverse":true,"nice":false,"zero":false},"axis":{"title":"Binding energy (eV)","values":[408,406,404,402,400,398,396],"labelExpr":"datum.value % 4 === 0 ? datum.label : ''"}}},
 "layer":[
  {"data":{"name":"es"},"mark":{"type":"square","size":40},"encoding":{"y":{"field":"y","type":"quantitative","scale":{"domain":[0,100],"nice":false,"zero":false},"axis":{"title":"Intensity (a.u.)"}}}},
  {"mark":{"type":"line","color":"#000080"},"encoding":{"y":{"field":"n","type":"quantitative"}}},
  {"mark":{"type":"line","color":"#008000"},"encoding":{"y":{"field":"g","type":"quantitative"}}},
  {"mark":{"type":"line","color":"#ff00ff"},"encoding":{"y":{"field":"m","type":"quantitative"}}},
  {"mark":{"type":"line","color":"#8000ff"},"encoding":{"y":{"field":"v","type":"quantitative"}}},
  {"mark":{"type":"line","color":"#ff0000"},"encoding":{"y":{"field":"r","type":"quantitative"}}},
  {"transform":[{"filter":"datum.x === 394"}],"mark":{"type":"text","align":"left","baseline":"alphabetic","fontSize":18,"font":"Liberation Sans","color":"#222"},"encoding":{"x":{"datum":407.35,"type":"quantitative"},"y":{"datum":91,"type":"quantitative"},"text":{"value":"carbon/TiO₂@N₂/H₂"}}}
 ]},
{"width":316,"height":229,"title":"(c)","data":{"name":"c"},
 "encoding":{"x":{"field":"x","type":"quantitative","scale":{"domain":[454,468],"reverse":true,"nice":false,"zero":false},"axis":{"title":"Binding energy (eV)","values":[468,466,464,462,460,458,456],"labelExpr":"datum.value % 4 === 0 ? datum.label : ''"}}},
 "layer":[
  {"mark":{"type":"square","size":36},"encoding":{"y":{"field":"r","type":"quantitative","scale":{"domain":[0,100],"nice":false,"zero":false},"axis":{"title":"Intensity (a.u)"}}}},
  {"mark":{"type":"line","color":"#000080"},"encoding":{"y":{"field":"n","type":"quantitative"}}},
  {"mark":{"type":"line","color":"#008000"},"encoding":{"y":{"field":"g","type":"quantitative"}}},
  {"mark":{"type":"line","color":"#ff00ff"},"encoding":{"y":{"field":"m","type":"quantitative"}}},
  {"mark":{"type":"line","color":"#8000ff"},"encoding":{"y":{"field":"v","type":"quantitative"}}},
  {"mark":{"type":"line","color":"#ff0000"},"encoding":{"y":{"field":"r","type":"quantitative"}}},
  {"transform":[{"filter":"datum.x === 468"}],"mark":{"type":"text","align":"left","baseline":"alphabetic","fontSize":18,"font":"Liberation Sans","color":"#222"},"encoding":{"x":{"datum":467.4,"type":"quantitative"},"y":{"datum":91,"type":"quantitative"},"text":{"value":"carbon/TiO₂@H₂"}}}
 ]},
{"width":314,"height":229,"title":"(f)","data":{"name":"f"},
 "encoding":{"x":{"field":"x","type":"quantitative","scale":{"domain":[394,408],"reverse":true,"nice":false,"zero":false},"axis":{"title":"Binding energy (eV)","values":[408,406,404,402,400,398,396],"labelExpr":"datum.value % 4 === 0 ? datum.label : ''"}}},
 "layer":[
  {"data":{"name":"fs"},"mark":{"type":"square","size":40},"encoding":{"y":{"field":"y","type":"quantitative","scale":{"domain":[0,100],"nice":false,"zero":false},"axis":{"title":"Intensity (a.u.)"}}}},
  {"mark":{"type":"line","color":"#000080"},"encoding":{"y":{"field":"n","type":"quantitative"}}},
  {"mark":{"type":"line","color":"#008000"},"encoding":{"y":{"field":"g","type":"quantitative"}}},
  {"mark":{"type":"line","color":"#ff00ff"},"encoding":{"y":{"field":"m","type":"quantitative"}}},
  {"mark":{"type":"line","color":"#8000ff"},"encoding":{"y":{"field":"v","type":"quantitative"}}},
  {"mark":{"type":"line","color":"#ff0000"},"encoding":{"y":{"field":"r","type":"quantitative"}}},
  {"transform":[{"filter":"datum.x === 394"}],"mark":{"type":"text","align":"left","baseline":"alphabetic","fontSize":18,"font":"Liberation Sans","color":"#222"},"encoding":{"x":{"datum":407.35,"type":"quantitative"},"y":{"datum":91,"type":"quantitative"},"text":{"value":"carbon/TiO₂@H₂"}}}
 ]}
]
}
